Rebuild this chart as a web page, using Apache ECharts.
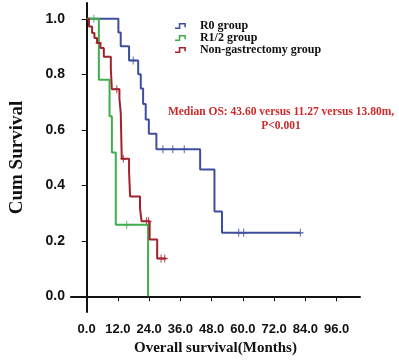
<!DOCTYPE html>
<html>
<head>
<meta charset="utf-8">
<script src="https://cdn.jsdelivr.net/npm/echarts@6/dist/echarts.min.js"></script>
<style>
  html, body { margin: 0; padding: 0; background: #fff; }
  #main { width: 399px; height: 361px; }
</style>
</head>
<body>
<div id="main"></div>
<script>
// step points: [month, cum survival] (drop happens at that month)
var r0Steps = [[0, 1.0], [12.2, 0.951], [13.1, 0.901], [16.3, 0.85], [19.8, 0.80], [20.8, 0.749],
    [21.7, 0.693], [22.7, 0.637], [23.9, 0.586], [26.8, 0.53], [43.6, 0.457], [49.1, 0.306],
    [52.0, 0.229], [82.1, 0.229]];
var r0Censor = [[17.9, 0.85], [29.3, 0.53], [33.1, 0.53], [37.5, 0.53], [58.4, 0.229], [60.3, 0.229], [82.1, 0.229]];

var r12Steps = [[0, 1.0], [4.7, 0.78], [8.8, 0.649], [9.7, 0.518], [11.2, 0.258], [23.6, 0.0]];
var r12Censor = [[2.8, 1.0], [15.4, 0.258]];

var nonSteps = [[0, 1.0], [0.9, 0.972], [2.1, 0.949], [3.0, 0.931], [4.0, 0.913], [5.3, 0.895],
    [6.6, 0.863], [9.3, 0.818], [9.7, 0.746], [12.6, 0.711], [13.1, 0.663], [13.5, 0.496],
    [16.3, 0.449], [16.7, 0.36], [20.5, 0.318], [21.1, 0.27], [24.2, 0.205], [27.1, 0.136], [30.5, 0.136]];
var nonCensor = [[4.6, 0.913], [11.6, 0.746], [14.1, 0.496], [23.0, 0.27], [23.8, 0.27], [28.6, 0.136], [30.0, 0.136]];

var groupNames = ['R0 group', 'R1/2 group', 'Non-gastrectomy group'];
var groupColors = ['#3d4f9e', '#3fae4c', '#a3212a'];
var xTicks = [0, 12, 24, 36, 48, 60, 72, 84, 96];
var yTicks = [0, 0.2, 0.4, 0.6, 0.8, 1.0];
var noteLines = ['Median OS: 43.60 versus 11.27 versus 13.80m,', 'P<0.001'];

var plusIcon = 'path://M-0.18,-1H0.18V-0.18H1V0.18H0.18V1H-0.18V0.18H-1V-0.18H-0.18Z';
var stepIcon = 'path://M0,4.4H3.4V0.4H9.8V4.2H8.4V1.8H4.8V5.8H0Z';

var chartDom = document.getElementById('main');
var myChart = echarts.init(chartDom);
var option;

function curve(name, data, color) {
    return {
        name: name,
        type: 'line',
        step: 'end',
        data: data,
        showSymbol: false,
        symbol: 'none',
        lineStyle: { color: color, width: 2 },
        itemStyle: { color: color },
        animation: false
    };
}

function censor(name, data, color) {
    return {
        name: name,
        type: 'scatter',
        data: data,
        symbol: plusIcon,
        symbolSize: [6, 8],
        itemStyle: { color: color },
        animation: false
    };
}

option = {
    backgroundColor: '#fff',
    grid: { left: 68, right: 39, top: 3, bottom: 46 },
    legend: {
        orient: 'vertical',
        left: 170,
        top: 15,
        itemWidth: 13,
        itemHeight: 6,
        itemGap: 0,
        data: groupNames.map(function (n, i) {
            return { name: n, icon: stepIcon, itemStyle: { color: groupColors[i] } };
        }),
        textStyle: {
            fontFamily: 'Liberation Serif',
            fontWeight: 'bold',
            fontSize: 12,
            lineHeight: 12,
            padding: [0, 0, 0, 8],
            color: '#111'
        }
    },
    xAxis: {
        type: 'value',
        min: -6,
        max: 105,
        name: 'Overall survival(Months)',
        nameLocation: 'middle',
        nameGap: 27,
        nameTextStyle: { fontFamily: 'Liberation Serif', fontWeight: 'bold', fontSize: 15, color: '#111' },
        splitLine: { show: false },
        axisLine: { lineStyle: { color: '#111', width: 2 } },
        axisTick: { customValues: xTicks, length: 5, lineStyle: { color: '#111', width: 1 } },
        axisLabel: {
            customValues: xTicks,
            formatter: function (v) { return v.toFixed(1); },
            fontFamily: 'Liberation Sans',
            fontWeight: 'bold',
            fontSize: 13,
            color: '#111',
            margin: 11
        }
    },
    yAxis: {
        type: 'value',
        min: -0.057,
        max: 1.057,
        name: 'Cum Survival',
        nameLocation: 'middle',
        nameGap: 44,
        nameTextStyle: { fontFamily: 'Liberation Serif', fontWeight: 'bold', fontSize: 19, color: '#111' },
        splitLine: { show: false },
        axisLine: { show: true, lineStyle: { color: '#111', width: 2 } },
        axisTick: { show: true, customValues: yTicks, length: 5, lineStyle: { color: '#111', width: 1 } },
        axisLabel: {
            customValues: yTicks,
            formatter: function (v) { return v.toFixed(1); },
            fontFamily: 'Liberation Sans',
            fontWeight: 'bold',
            fontSize: 14,
            color: '#111',
            margin: 6
        }
    },
    graphic: [{
        type: 'text',
        x: 281,
        y: 105,
        style: {
            text: noteLines.join('\n'),
            textAlign: 'center',
            fill: '#cc2b2b',
            font: 'bold 11.5px "Liberation Serif"',
            lineHeight: 14
        }
    }],
    series: [
        curve(groupNames[0], r0Steps, groupColors[0]),
        curve(groupNames[1], r12Steps, groupColors[1]),
        curve(groupNames[2], nonSteps, groupColors[2]),
        censor('R0 censored', r0Censor, groupColors[0]),
        censor('R1/2 censored', r12Censor, groupColors[1]),
        censor('Non censored', nonCensor, groupColors[2])
    ]
};

option && myChart.setOption(option);
</script>
</body>
</html>
